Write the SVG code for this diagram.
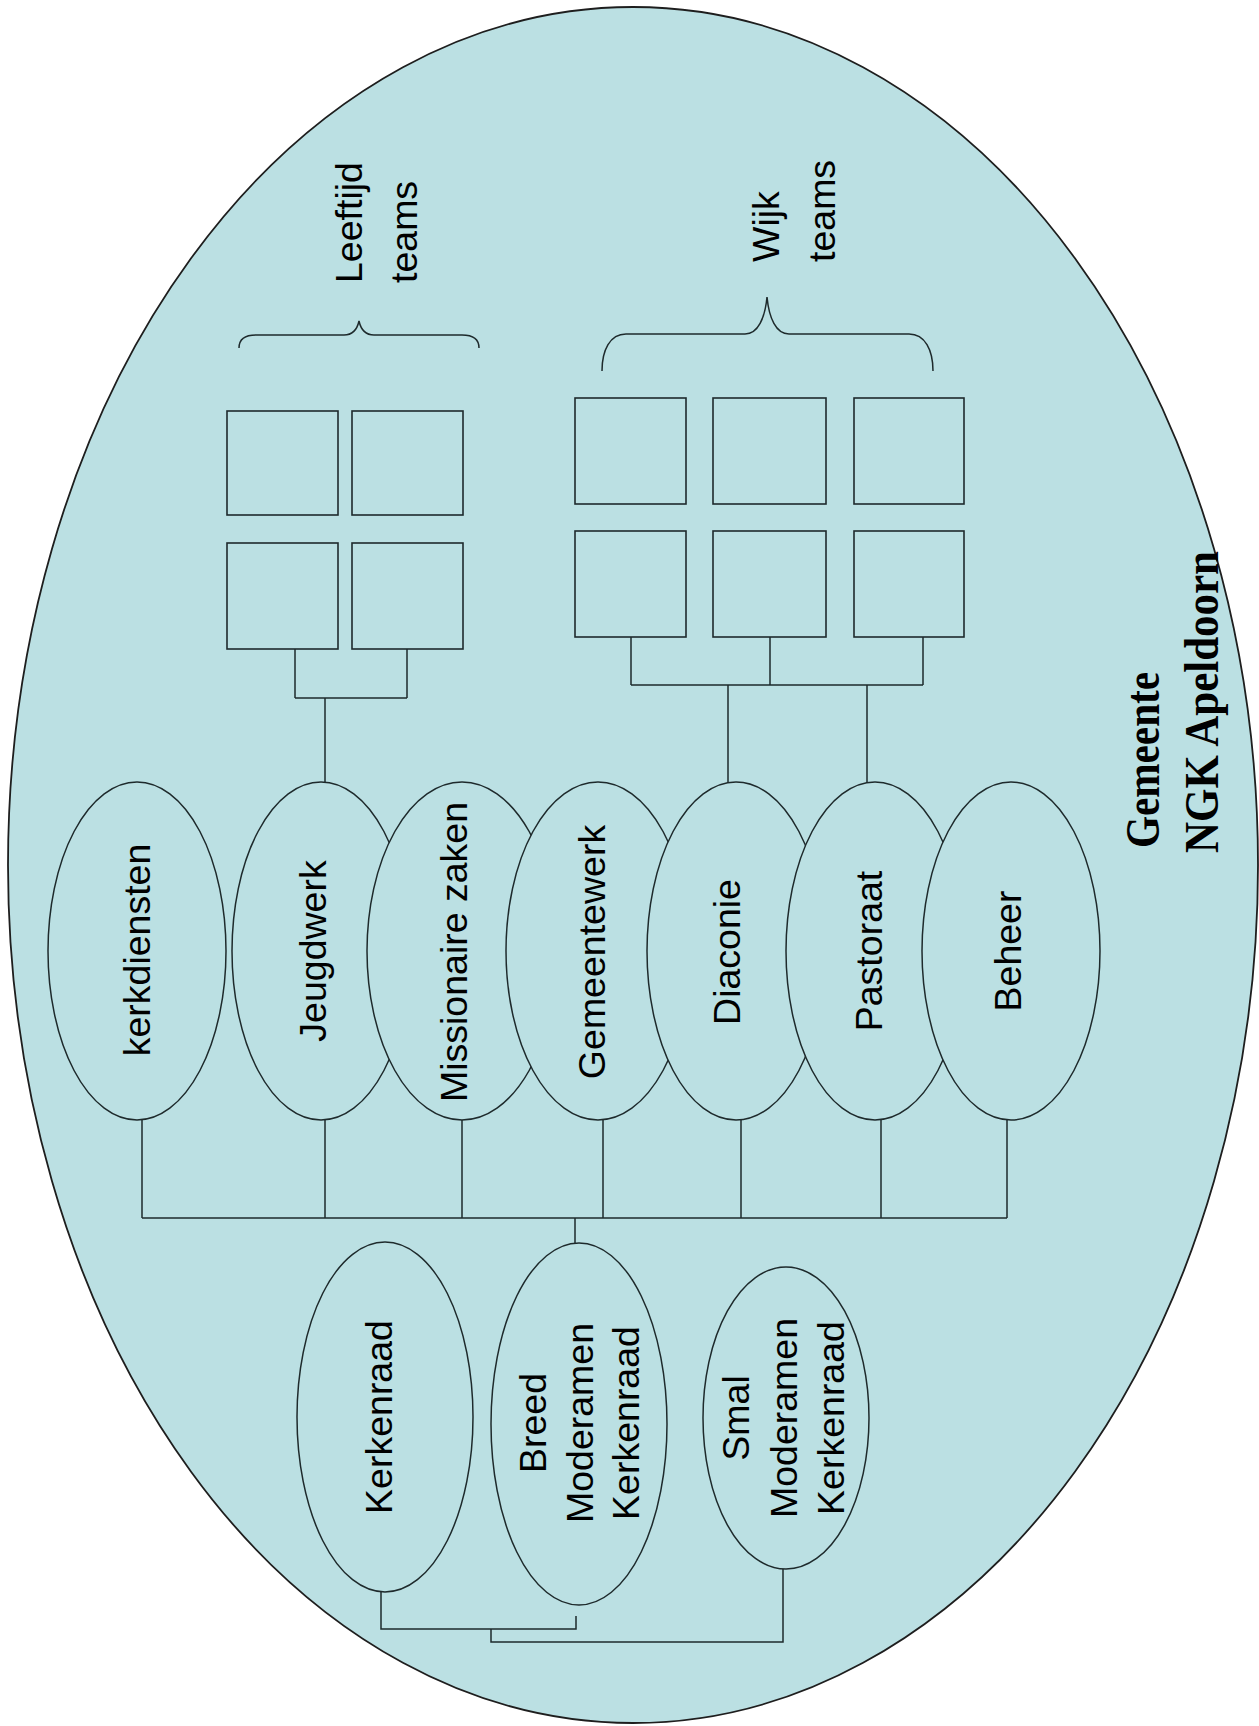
<svg xmlns="http://www.w3.org/2000/svg" width="1259" height="1726" viewBox="0 0 1259 1726">
<style>
.bg{fill:#ffffff}
.outer{fill:#BBE0E3;stroke:#1e1e1e;stroke-width:1.8}
.node{fill:#BBE0E3;stroke:#1e2a2c;stroke-width:1.5}
.box{fill:#BBE0E3;stroke:#1e2a2c;stroke-width:1.6}
.conn{fill:none;stroke:#1e2a2c;stroke-width:1.5}
.lbl{font-family:"Liberation Sans",Arial,sans-serif;font-size:37.5px;fill:#000}
.title{font-family:"Liberation Serif","Times New Roman",serif;font-size:48px;font-weight:bold;fill:#000}
</style>
<rect class="bg" x="0" y="0" width="1259" height="1726"/>
<g id="gemeente">
<ellipse class="outer" cx="633" cy="865" rx="625" ry="858"/>
<text class="title" transform="translate(1159,848) rotate(-90)" textLength="176" lengthAdjust="spacingAndGlyphs">Gemeente</text>
<text class="title" transform="translate(1218,853) rotate(-90)" textLength="302" lengthAdjust="spacingAndGlyphs">NGK Apeldoorn</text>
</g>
<g id="connectors">
<path class="conn" d="M295,649 V698 M407,649 V698 M295,698 H407 M325,698 V783"/>
<path class="conn" d="M631,637 V685 M770,637 V685 M923,637 V685 M631,685 H923 M728,685 V783 M867,685 V784"/>
<path class="conn" d="M142,1120 V1218 M325,1120 V1218 M462,1120 V1218 M603,1120 V1218 M741,1120 V1218 M881,1120 V1218 M1007,1120 V1218 M142,1218 H1007 M575,1218 V1243"/>
<path class="conn" d="M381,1592 V1629 H576 V1616"/>
<path class="conn" d="M491,1629 V1642 H783 V1569"/>
<path class="conn" d="M239,348 C239,340 244,335 256,335 H344 C352,335 357,330 359,321 C361,330 366,335 374,335 H462 C474,335 479,340 479,348"/>
<path class="conn" d="M602,371 C602,350 610,334 626,334 H745 C758,334 765,318 767,297 C769,318 776,334 789,334 H909 C925,334 933,350 933,371"/>
</g>
<g id="leeftijd-teams">
<rect class="box" x="227" y="411" width="111" height="104"/>
<rect class="box" x="352" y="411" width="111" height="104"/>
<rect class="box" x="227" y="543" width="111" height="106"/>
<rect class="box" x="352" y="543" width="111" height="106"/>
<text class="lbl" transform="translate(362,283) rotate(-90)"><tspan x="0" y="0">Leeftijd</tspan><tspan x="0" dy="55">teams</tspan></text>
</g>
<g id="wijk-teams">
<rect class="box" x="575" y="398" width="111" height="106"/>
<rect class="box" x="713" y="398" width="113" height="106"/>
<rect class="box" x="854" y="398" width="110" height="106"/>
<rect class="box" x="575" y="531" width="111" height="106"/>
<rect class="box" x="713" y="531" width="113" height="106"/>
<rect class="box" x="854" y="531" width="110" height="106"/>
<text class="lbl" transform="translate(779,262) rotate(-90)"><tspan x="0" y="0">Wijk</tspan><tspan x="0" dy="56">teams</tspan></text>
</g>
<g id="kerkdiensten">
<ellipse class="node" cx="137" cy="951" rx="89" ry="169"/>
<text class="lbl" text-anchor="middle" transform="translate(150,950) rotate(-90)">kerkdiensten</text>
</g>
<g id="jeugdwerk">
<ellipse class="node" cx="321" cy="951" rx="89" ry="169"/>
<text class="lbl" text-anchor="middle" transform="translate(326,951) rotate(-90)">Jeugdwerk</text>
</g>
<g id="missionaire-zaken">
<ellipse class="node" cx="462" cy="951" rx="95" ry="169"/>
<text class="lbl" text-anchor="middle" transform="translate(467,952) rotate(-90)">Missionaire zaken</text>
</g>
<g id="gemeentewerk">
<ellipse class="node" cx="598" cy="951" rx="92" ry="169"/>
<text class="lbl" text-anchor="middle" transform="translate(605,952) rotate(-90)">Gemeentewerk</text>
</g>
<g id="diaconie">
<ellipse class="node" cx="736" cy="951" rx="89" ry="169"/>
<text class="lbl" text-anchor="middle" transform="translate(740,952) rotate(-90)">Diaconie</text>
</g>
<g id="pastoraat">
<ellipse class="node" cx="875" cy="951" rx="89" ry="169"/>
<text class="lbl" text-anchor="middle" transform="translate(882,951) rotate(-90)">Pastoraat</text>
</g>
<g id="beheer">
<ellipse class="node" cx="1011" cy="951" rx="89" ry="169"/>
<text class="lbl" text-anchor="middle" transform="translate(1021,951) rotate(-90)">Beheer</text>
</g>
<g id="kerkenraad">
<ellipse class="node" cx="385" cy="1417" rx="88" ry="175"/>
<text class="lbl" text-anchor="middle" transform="translate(392,1417) rotate(-90)">Kerkenraad</text>
</g>
<g id="breed-moderamen">
<ellipse class="node" cx="579" cy="1424" rx="88" ry="181"/>
<text class="lbl" text-anchor="middle" transform="translate(546,1423) rotate(-90)"><tspan x="0" y="0">Breed</tspan><tspan x="0" dy="46.5">Moderamen</tspan><tspan x="0" dy="46.5">Kerkenraad</tspan></text>
</g>
<g id="smal-moderamen">
<ellipse class="node" cx="786" cy="1418" rx="83" ry="151"/>
<text class="lbl" text-anchor="middle" transform="translate(749,1418) rotate(-90)"><tspan x="0" y="0">Smal</tspan><tspan x="0" dy="47.5">Moderamen</tspan><tspan x="0" dy="47.5">Kerkenraad</tspan></text>
</g>
</svg>
